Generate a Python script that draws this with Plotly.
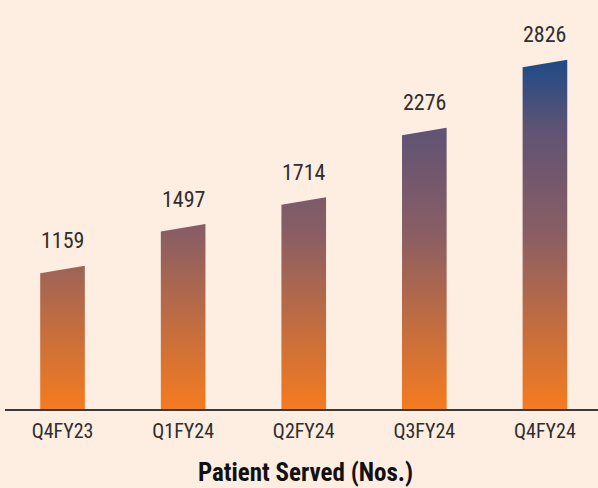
import plotly.graph_objects as go

# ---- data ----
categories = ["Q4FY23", "Q1FY24", "Q2FY24", "Q3FY24", "Q4FY24"]
patients_served = [1159, 1497, 1714, 2276, 2826]
chart_title = "Patient Served (Nos.)"

# ---- style ----
BG = "#FEEDE1"
GRADIENT = [
    [0.0, "#F57B1F"],
    [0.5, "#8A5E64"],
    [0.8, "#5F5374"],
    [1.0, "#1E4A87"],
]
TEXT = "#2E2E2E"
FONT = "Liberation Sans Narrow, Roboto Condensed, DejaVu Sans Condensed, sans-serif"

W, H = 598, 488
M_L, M_R, M_T, M_B = 5, 0, 0, 79
plot_h = H - M_T - M_B
y_max = 3310
x_range = [-0.477, 4.44]
bar_w = 0.37
slant_px = 7.5
slant = slant_px * y_max / plot_h  # data units

fig = go.Figure()
for i, (cat, v) in enumerate(zip(categories, patients_served)):
    l, r = i - bar_w / 2, i + bar_w / 2
    fig.add_trace(go.Scatter(
        x=[l, l, r, r, l],
        y=[0, v - slant, v, 0, 0],
        mode="lines",
        line=dict(width=0),
        fill="toself",
        fillgradient=dict(
            type="vertical",
            colorscale=GRADIENT,
            start=0,
            stop=max(patients_served),
        ),
        hoverinfo="skip",
        showlegend=False,
    ))
    fig.add_annotation(
        x=i, y=v, xref="x", yref="y",
        text=str(v), showarrow=False,
        yanchor="middle", yshift=25,
        font=dict(family=FONT, size=22, color=TEXT),
    )

fig.add_annotation(
    xref="paper", yref="paper",
    x=(305 - M_L) / (W - M_L - M_R), y=-(472 - (M_T + plot_h)) / plot_h,
    text="<b>" + chart_title + "</b>", showarrow=False,
    xanchor="center", yanchor="middle",
    font=dict(family=FONT, size=25, color="#111111"),
)

fig.update_layout(
    width=W, height=H,
    margin=dict(l=M_L, r=M_R, t=M_T, b=M_B),
    paper_bgcolor=BG, plot_bgcolor=BG,
    xaxis=dict(
        range=x_range,
        tickmode="array",
        tickvals=list(range(len(categories))),
        ticktext=categories,
        showgrid=False, zeroline=False,
        showline=True, linecolor="#3A3A3A", linewidth=1.5,
        ticks="outside", ticklen=3, tickcolor="rgba(0,0,0,0)",
        tickfont=dict(family=FONT, size=20, color=TEXT),
        fixedrange=True,
    ),
    yaxis=dict(
        range=[0, y_max],
        visible=False,
        fixedrange=True,
    ),
)

fig.write_html(
    "out.html",
    config={"displayModeBar": False},
    post_script="document.body.style.margin='0';document.body.style.overflow='hidden';",
)
